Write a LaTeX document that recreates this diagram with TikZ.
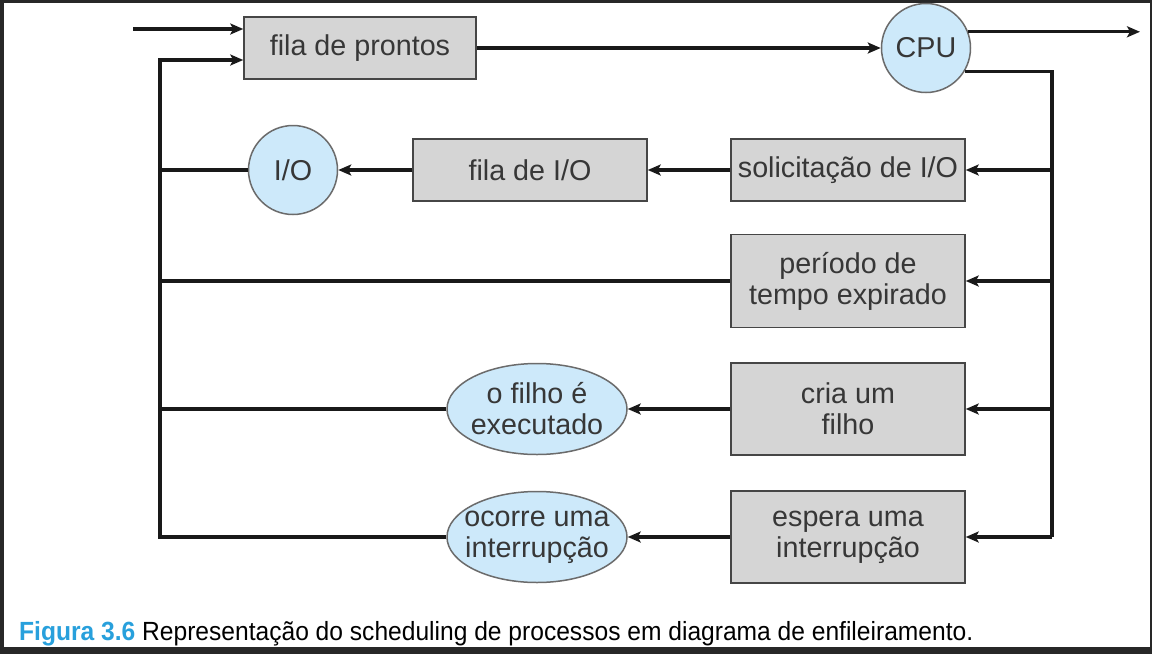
\documentclass[tikz,border=0pt]{standalone}
\usepackage{fontspec}
\usepackage{xcolor}
\usepackage{tikz}
\usetikzlibrary{shapes.geometric,arrows.meta,calc}
\setmainfont{Liberation Sans}
\newfontfamily\capfont[FakeStretch=0.935]{Liberation Sans}
\definecolor{framedark}{RGB}{40, 40, 40}
\definecolor{boxgray}{RGB}{213, 213, 213}
\definecolor{edgegray}{RGB}{70, 70, 70}
\definecolor{cpublue}{RGB}{205, 233, 250}
\definecolor{labeltext}{RGB}{55, 55, 55}
\definecolor{linedark}{RGB}{25, 25, 25}
\definecolor{figblue}{RGB}{40, 160, 220}

\tikzset{
    queuebox/.style={rectangle, fill=boxgray, draw=edgegray, line width=1.5pt,
        minimum width=234pt, minimum height=62pt, inner sep=0pt, align=center,
        text=labeltext, font=\fontsize{28.7}{31}\selectfont},
    tallbox/.style={queuebox, minimum height=92pt},
    devcircle/.style={circle, fill=cpublue, draw=edgegray!80, line width=1.5pt,
        minimum size=89pt, inner sep=0pt, text=labeltext,
        font=\fontsize{28.7}{31}\selectfont},
    eventoval/.style={ellipse, fill=cpublue, draw=edgegray!80, line width=1.5pt,
        minimum width=180pt, minimum height=91pt, inner xsep=-9pt, inner ysep=0pt,
        align=center, text=labeltext, font=\fontsize{28.7}{31}\selectfont},
    flow/.style={draw=linedark, line width=3.2pt},
    flowarr/.style={flow, -{Stealth[length=13pt, width=11pt, inset=3pt]}},
}

\begin{document}
\begin{tikzpicture}[x=1pt, y=-1pt]
    % screenshot frame
    \fill[framedark] (0,0) rectangle (1152,654);
    \fill[white] (4,3) rectangle (1150,647);

    % nodes
    \node[queuebox, minimum width=232pt] (ready) at (360,48) {fila de prontos};
    \node[devcircle] (cpu) at (926,48) {CPU};
    \node[queuebox] (ioreq) at (848,170) {solicitação de I/O};
    \node[queuebox] (ioq) at (530,170) {fila de I/O};
    \node[devcircle] (io) at (293,170) {I/O};
    \node[tallbox, minimum height=93pt] (slice) at (848,281) {período de\\tempo expirado};
    \node[tallbox] (fork) at (848,409) {cria um\\filho};
    \node[eventoval] (child) at (537,409) {o filho é\\executado};
    \node[tallbox] (wait) at (848,537) {espera uma\\interrupção};
    \node[eventoval] (intr) at (537,537) {ocorre uma\\interrupção};

    \coordinate (entry) at (133,29);
    \coordinate (bustop) at (160,60);
    \coordinate (exit) at (1140,32);
    \coordinate (rbus) at (1052,537);

    % connectors
    \draw[flowarr] (entry) -- (entry -| ready.west);
    \draw[flowarr] (ready) -- (cpu);
    \draw[flowarr] (cpu.21) -- (cpu.21 -| exit);
    \draw[flow] (cpu.-31) -| (rbus);
    \draw[flowarr] (rbus |- ioreq.east) -- (ioreq.east);
    \draw[flowarr] (rbus |- slice.east) -- (slice.east);
    \draw[flowarr] (rbus |- fork.east) -- (fork.east);
    \draw[flowarr] (rbus) -- (wait.east);
    \draw[flowarr] (ioreq) -- (ioq);
    \draw[flowarr] (ioq) -- (io);
    \draw[flowarr] (fork) -- (child);
    \draw[flowarr] (wait) -- (intr);
    \draw[flow] (io.west) -- (io.west -| bustop);
    \draw[flow] (slice.west) -- (slice.west -| bustop);
    \draw[flow] (child.west) -- (child.west -| bustop);
    \draw[flowarr] (intr.west) -| (bustop) -- (bustop -| ready.west);

    % caption
    \node[anchor=base west, inner sep=0pt, font=\capfont\fontsize{26.3}{30}\selectfont] (caption) at (19,640)
        {\textcolor{figblue}{\bfseries Figura 3.6} Representação do scheduling de processos em diagrama de enfileiramento.};
\end{tikzpicture}
\end{document}
